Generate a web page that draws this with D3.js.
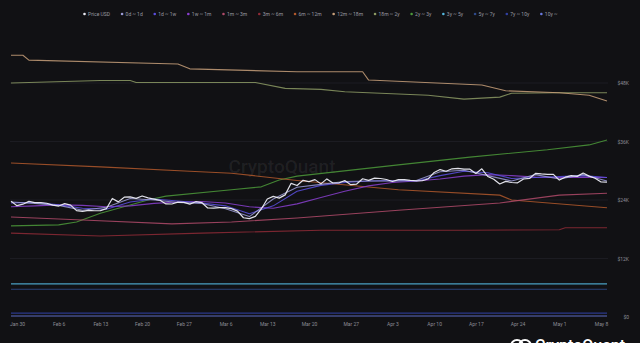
<!DOCTYPE html>
<html><head><meta charset="utf-8">
<script src="https://cdn.jsdelivr.net/npm/d3@7"></script>
<style>html,body{margin:0;padding:0;background:#111114;overflow:hidden}svg{display:block}</style>
</head><body><svg id="c" width="640" height="343"></svg>
<script>
// ---------- DATA (values in thousands of USD) ----------
const seriesNames = ["Price USD","0d ~ 1d","1d ~ 1w","1w ~ 1m","1m ~ 3m","3m ~ 6m","6m ~ 12m","12m ~ 18m","18m ~ 2y","2y ~ 3y","3y ~ 5y","5y ~ 7y","7y ~ 10y","10y ~"];
const seriesColors = ["#ececf4","#9b9bd6","#5b4fe0","#8a3fd0","#b04a6a","#8e2a36","#b0582c","#c8a07a","#8c9a64","#4c9a3a","#54b8e0","#2e4a8a","#3040a0","#6a7ae0"];
const yTickValues = [0,12,24,36,48];
const startDate = "2023-01-29";
// daily price, Jan 29 – May 9
const priceUSD = [23.77,22.84,23.14,23.72,23.47,23.45,23.33,22.96,22.76,23.26,22.94,21.82,21.65,21.87,21.79,21.81,22.22,24.31,23.62,24.57,24.64,24.33,24.83,24.44,24.19,23.95,23.20,23.18,23.56,23.52,23.15,23.65,23.48,22.36,22.35,22.44,22.43,22.22,21.72,20.36,20.19,20.63,22.16,24.20,24.75,24.38,25.05,27.42,26.97,28.04,27.77,28.18,27.31,28.33,27.49,27.49,27.99,27.14,27.27,28.35,28.03,28.48,28.41,28.20,27.79,28.17,28.18,28.04,27.93,27.95,28.33,29.65,30.24,29.89,30.40,30.49,30.32,30.32,29.45,30.40,28.82,28.25,27.28,27.82,27.59,27.53,28.31,28.42,29.47,29.34,29.25,29.27,28.09,28.68,29.01,28.85,29.53,28.90,28.45,27.69,27.66];
// 4-day grid, Jan 29 – May 9
const band0d1d = [23.6,23.3,22.9,21.9,22.5,24.3,24.0,23.5,23.3,22.2,20.6,24.2,26.6,27.2,27.8,27.9,27.9,28.0,29.8,30.1,29.0,27.9,29.2,28.3,29.2,27.9];
const band1d1w = [23.4,23.5,23.0,22.3,22.1,23.6,24.2,23.8,23.4,22.8,21.2,22.8,25.8,27.0,27.6,27.9,28.0,27.9,29.0,29.9,29.6,28.4,28.6,28.8,29.0,28.6];
const band1w1m = [22.6,22.8,23.0,22.9,22.6,22.8,23.3,23.6,23.7,23.4,22.6,22.3,23.2,24.5,25.8,26.9,27.6,27.9,28.3,28.9,29.2,29.0,28.7,28.6,28.7,28.6];
// sparse [date, value] readings
const band1m3m = [["2023-01-29",20.5],["2023-02-10",19.9],["2023-02-25",19.1],["2023-03-07",19.5],["2023-03-18",20.3],["2023-04-04",21.9],["2023-04-21",23.4],["2023-05-01",25.0],["2023-05-09",25.4]];
const band3m6m = [["2023-01-29",17.2],["2023-02-13",16.6],["2023-03-02",17.2],["2023-03-22",17.8],["2023-04-15",17.8],["2023-05-01",17.9],["2023-05-02",18.3],["2023-05-09",18.3]];
const band6m12m = [["2023-01-29",31.6],["2023-02-13",30.8],["2023-02-28",29.9],["2023-03-07",29.5],["2023-03-18",28.0],["2023-04-04",26.1],["2023-04-21",25.0],["2023-04-23",24.0],["2023-05-09",22.4]];
const band12m18m = [["2023-01-29",53.7],["2023-01-31",53.7],["2023-02-01",52.7],["2023-02-26",51.9],["2023-02-28",50.9],["2023-03-18",50.3],["2023-03-29",50.3],["2023-03-30",48.6],["2023-04-18",47.6],["2023-04-22",46.4],["2023-05-01",46.0],["2023-05-06",45.5],["2023-05-09",44.3]];
const band18m2y = [["2023-01-29",48.0],["2023-02-13",48.5],["2023-02-18",48.5],["2023-02-19",48.1],["2023-03-11",48.1],["2023-03-16",46.9],["2023-03-22",46.7],["2023-03-26",46.2],["2023-04-09",45.5],["2023-04-15",44.7],["2023-04-21",45.1],["2023-04-23",45.9],["2023-05-01",46.0],["2023-05-09",46.0]];
const band2y3y = [["2023-01-29",18.7],["2023-02-06",18.9],["2023-02-09",19.5],["2023-02-13",21.3],["2023-02-21",24.0],["2023-02-24",24.8],["2023-03-07",26.1],["2023-03-12",26.7],["2023-03-15",28.1],["2023-03-18",28.9],["2023-04-04",31.2],["2023-04-16",32.8],["2023-04-29",34.3],["2023-05-06",35.3],["2023-05-09",36.3]];
const band3y5y = [["2023-01-29",6.8],["2023-05-09",6.8]];
const band5y7y = [["2023-01-29",5.7],["2023-05-09",5.7]];
const band7y10y = [["2023-01-29",0.8],["2023-05-09",0.8]];
const band10y = [["2023-01-29",0.2],["2023-05-09",0.2]];

// ---------- BUILD ----------
const parse = d3.utcParse("%Y-%m-%d");
const d0 = parse(startDate);
const dailyPts = arr => arr.map((v,i)=>({d:d3.utcDay.offset(d0,i),v}));
const gridPts = arr => arr.map((v,i)=>({d:d3.utcDay.offset(d0,i*4),v}));
const pairPts = arr => arr.map(([s,v])=>({d:parse(s),v}));
const series = [
  dailyPts(priceUSD), gridPts(band0d1d), gridPts(band1d1w), gridPts(band1w1m),
  pairPts(band1m3m), pairPts(band3m6m), pairPts(band6m12m), pairPts(band12m18m),
  pairPts(band18m2y), pairPts(band2y3y), pairPts(band3y5y), pairPts(band5y7y),
  pairPts(band7y10y), pairPts(band10y)
];

const svg = d3.select("#c");
const font = "Roboto, 'Open Sans', sans-serif";
const x = d3.scaleUtc().domain([parse("2023-01-29"), parse("2023-05-09")]).range([11, 607]);
const y = d3.scaleLinear().domain([0, 60]).range([317, 24.5]);

// grid
svg.append("g").selectAll("line").data(yTickValues.filter(v=>v>0)).join("line")
  .attr("x1",10).attr("x2",608).attr("y1",d=>y(d)).attr("y2",d=>y(d))
  .attr("stroke","#1f1f26").attr("stroke-width",0.8);

// watermark
svg.append("text").attr("x",282).attr("y",173).attr("text-anchor","middle")
  .attr("font-family",font).attr("font-size",19).attr("font-weight",500)
  .attr("fill","#ffffff").attr("fill-opacity",0.07).text("CryptoQuant");

// lines (draw in reverse so price is on top)
const line = d3.line().x(p=>x(p.d)).y(p=>y(p.v));
const order = d3.range(series.length).reverse();
svg.append("g").selectAll("path").data(order).join("path")
  .attr("d",i=>line(series[i])).attr("fill","none")
  .attr("stroke",i=>seriesColors[i]).attr("stroke-width",i=>i===0?1.2:1.1)
  .attr("stroke-linejoin","round").attr("stroke-opacity",i=>i===0?0.95:0.85);

// x axis
const xAxis = d3.axisBottom(x).ticks(d3.utcMonday.every(1)).tickFormat(d3.utcFormat("%b %-d")).tickSize(0).tickPadding(0);
const gx = svg.append("g").attr("transform","translate(0,322)").call(xAxis);
gx.select(".domain").remove();
gx.selectAll("text").attr("font-family",font).attr("font-size",5).attr("fill","#8c8c94").attr("dy","0.35em").attr("y",2);

// y axis right
const yAxis = d3.axisRight(y).tickValues(yTickValues).tickFormat(v=>v===0?"$0":`$${v}K`).tickSize(0);
const gy = svg.append("g").attr("transform","translate(629,0)").call(yAxis);
gy.select(".domain").remove();
gy.selectAll("text").attr("font-family",font).attr("font-size",5).attr("fill","#8c8c94").attr("text-anchor","end").attr("x",0);

// legend
const lg = svg.append("g").attr("transform","translate(0,14)");
const items = lg.selectAll("g").data(seriesNames).join("g");
items.append("circle").attr("r",1.3).attr("cy",0).attr("fill",(d,i)=>seriesColors[i]);
items.append("text").attr("x",3.5).attr("dy","0.35em").attr("font-family",font).attr("font-size",5)
  .attr("fill","#9a9aa2").text(d=>d);
let cx = 0; const gap = 12; const pos = [];
items.each(function(){ const w = 3.5 + this.querySelector("text").getComputedTextLength(); pos.push(cx); cx += w + gap; });
const total = cx - gap; const startX = 321 - total/2;
items.attr("transform",(d,i)=>`translate(${startX+pos[i]},0)`);

// brand mark bottom-right
const brand = svg.append("g");
brand.append("circle").attr("cx",517).attr("cy",346).attr("r",6).attr("fill","none").attr("stroke","#ffffff").attr("stroke-width",2);
brand.append("circle").attr("cx",525).attr("cy",346).attr("r",6).attr("fill","none").attr("stroke","#ffffff").attr("stroke-width",2);
brand.append("text").attr("x",535).attr("y",351).attr("font-family",font).attr("font-size",16).attr("font-weight",500)
  .attr("fill","#ffffff").text("CryptoQuant");
</script></body></html>
